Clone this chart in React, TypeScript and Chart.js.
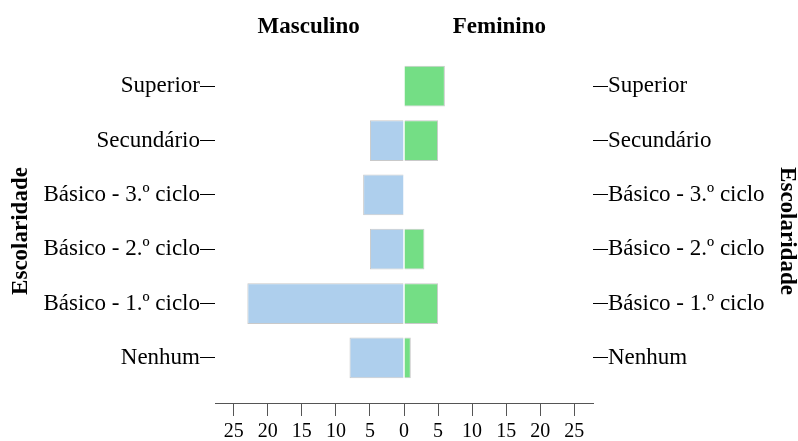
import React, { useEffect, useRef } from "react";
import { Chart, registerables } from "chart.js";

Chart.register(...registerables);

const categories = ["Superior", "Secundário", "Básico - 3.º ciclo", "Básico - 2.º ciclo", "Básico - 1.º ciclo", "Nenhum"];
const masculino = [0, 5, 6, 5, 23, 8];
const feminino = [6, 5, 0, 3, 5, 1];
const sexLabels = ["Masculino", "Feminino"];
const sexTickPositions = [-14, 14];
const xTicks = [-25, -20, -15, -10, -5, 0, 5, 10, 15, 20, 25];
const axisTitle = "Escolaridade";

const X_MIN = -27.75;
const X_MAX = 27.75;
const Y_MIN = -0.5;
const Y_MAX = 5.83;
const FONT = "'Liberation Serif', 'Times New Roman', serif";

export default function App() {
  const ref = useRef<HTMLCanvasElement | null>(null);

  useEffect(() => {
    if (!ref.current) return;
    const idx = categories.map((_, i) => i);
    const yTickBuilder = (scale: any) => {
      scale.ticks = idx.map((v) => ({ value: v }));
    };
    const labelFont = { family: FONT, size: 23 };
    const titleFont = { family: FONT, size: 23, weight: "bold" as const, lineHeight: 1 };

    const chart = new Chart(ref.current, {
      type: "bar",
      data: {
        datasets: [
          {
            label: sexLabels[0],
            data: masculino.map((v, i) => ({ x: -v, y: i })),
            backgroundColor: "#aecfed",
            borderColor: "#c9c9c9",
            borderWidth: 1,
            xAxisID: "x",
            yAxisID: "y",
          },
          {
            label: sexLabels[1],
            data: feminino.map((v, i) => ({ x: v, y: i })),
            backgroundColor: "#74de85",
            borderColor: "#c9c9c9",
            borderWidth: 1,
            xAxisID: "x",
            yAxisID: "y",
          },
        ],
      },
      options: {
        indexAxis: "y",
        animation: false,
        responsive: true,
        maintainAspectRatio: false,
        layout: { padding: 0 },
        datasets: { bar: { grouped: false, categoryPercentage: 1, barPercentage: 0.75 } },
        plugins: { legend: { display: false }, tooltip: { enabled: false } },
        scales: {
          x: {
            type: "linear",
            position: "bottom",
            min: X_MIN,
            max: X_MAX,
            offset: false,
            afterBuildTicks: (scale: any) => {
              scale.ticks = xTicks.map((v) => ({ value: v }));
            },
            afterFit: (scale: any) => {
              scale.height = 38;
            },
            ticks: {
              callback: (v: any) => String(Math.abs(Number(v))),
              color: "#000",
              font: { family: FONT, size: 20 },
              padding: 4,
              maxRotation: 0,
              autoSkip: false,
            },
            grid: { offset: false, drawOnChartArea: false, drawTicks: true, tickLength: 13, color: "#555" },
            border: { display: true, color: "#555" },
          },
          x2: {
            type: "linear",
            position: "top",
            min: X_MIN,
            max: X_MAX,
            offset: false,
            afterBuildTicks: (scale: any) => {
              scale.ticks = sexTickPositions.map((v) => ({ value: v }));
            },
            afterFit: (scale: any) => {
              scale.height = 59;
            },
            ticks: {
              callback: (_v: any, i: number) => sexLabels[i],
              color: "#000",
              font: { family: FONT, size: 23, weight: "bold" },
              padding: 18,
              maxRotation: 0,
              autoSkip: false,
            },
            grid: { display: false, drawTicks: false, tickLength: 0 },
            border: { display: false },
          },
          y: {
            type: "linear",
            position: "left",
            reverse: true,
            min: Y_MIN,
            max: Y_MAX,
            offset: false,
            afterBuildTicks: yTickBuilder,
            afterFit: (scale: any) => {
              scale.width = 215;
            },
            ticks: {
              callback: (v: any) => categories[Number(v)],
              color: "#000",
              font: labelFont,
              padding: 0,
              autoSkip: false,
            },
            grid: { offset: false, drawOnChartArea: false, drawTicks: true, tickLength: 15, color: "#000" },
            border: { display: false },
            title: { display: true, text: axisTitle, color: "#000", font: titleFont, padding: { top: 10, bottom: 0 } },
          },
          y2: {
            type: "linear",
            position: "right",
            reverse: true,
            min: Y_MIN,
            max: Y_MAX,
            offset: false,
            afterBuildTicks: yTickBuilder,
            afterFit: (scale: any) => {
              scale.width = 205;
            },
            ticks: {
              callback: (v: any) => categories[Number(v)],
              color: "#000",
              font: labelFont,
              padding: 0,
              autoSkip: false,
            },
            grid: { offset: false, drawOnChartArea: false, drawTicks: true, tickLength: 15, color: "#000" },
            border: { display: false },
            title: { display: true, text: axisTitle, color: "#000", font: titleFont, padding: { top: 0, bottom: 0 } },
          },
        },
      },
    });
    return () => chart.destroy();
  }, []);

  return (
    <div style={{ position: "fixed", left: 0, top: 0, width: 798, height: 441, background: "#fff" }}>
      <canvas ref={ref} />
    </div>
  );
}
